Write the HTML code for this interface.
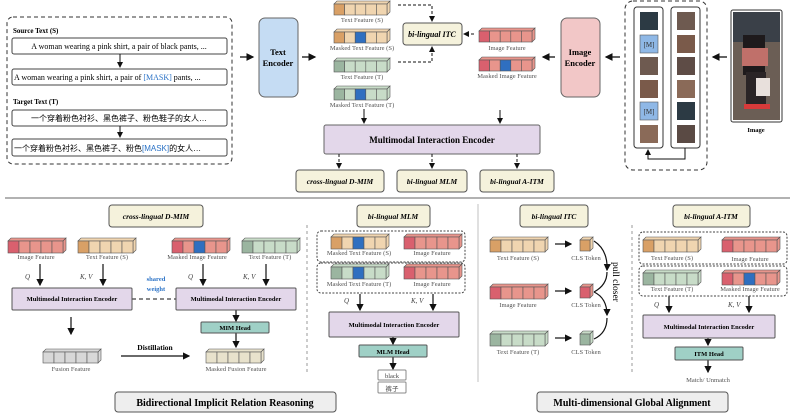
<!DOCTYPE html>
<html><head><meta charset="utf-8"><style>
body{margin:0;background:#fff}
svg{display:block;font-family:"Liberation Serif","Noto Serif CJK SC",serif}
.b{font-weight:bold}
</style></head><body>
<svg id="s" width="793" height="414" viewBox="0 0 793 414" xmlns="http://www.w3.org/2000/svg">
<defs>
<marker id="a" markerWidth="6" markerHeight="6" refX="5" refY="3" orient="auto"><path d="M0,0 L6,3 L0,6 z" fill="#111"/></marker>
</defs>
<g id="bars"></g>
<rect x="7" y="17" width="225" height="147" rx="6" fill="none" stroke="#333" stroke-dasharray="4,3"/>
<text x="13" y="33" font-size="7" class="b">Source Text (S)</text>
<rect x="12" y="38" width="215" height="16" rx="2" fill="#fff" stroke="#444"/>
<text x="119" y="49" font-size="8" text-anchor="middle">A woman wearing a pink shirt, a pair of black pants, ...</text>
<line x1="120" y1="54" x2="120" y2="67" stroke="#111" marker-end="url(#a)"/>
<rect x="12" y="69" width="215" height="16" rx="2" fill="#fff" stroke="#444"/>
<text x="14" y="80" font-size="8">A woman wearing a pink shirt, a pair of <tspan fill="#2a72c6">[MASK]</tspan> pants, ...</text>
<text x="13" y="104" font-size="7" class="b">Target Text (T)</text>
<rect x="12" y="110" width="215" height="16" rx="2" fill="#fff" stroke="#444"/>
<text x="119" y="121" font-size="8" text-anchor="middle" font-family="Liberation Sans,Noto Sans CJK SC,sans-serif">一个穿着粉色衬衫、黑色裤子、粉色鞋子的女人…</text>
<line x1="120" y1="126" x2="120" y2="137" stroke="#111" marker-end="url(#a)"/>
<rect x="12" y="139" width="215" height="17" rx="2" fill="#fff" stroke="#444"/>
<text x="14" y="151" font-size="8" font-family="Liberation Sans,Noto Sans CJK SC,sans-serif">一个穿着粉色衬衫、黑色裤子、粉色<tspan fill="#2a72c6">[MASK]</tspan>的女人…</text>
<line x1="240" y1="57" x2="253" y2="57" stroke="#111" stroke-width="1.3" marker-end="url(#a)"/>
<rect x="259" y="18" width="39" height="79" rx="6" fill="#c5dcf3" stroke="#666"/>
<text x="278" y="55" font-size="8.5" class="b" text-anchor="middle">Text</text>
<text x="278" y="66" font-size="8.5" class="b" text-anchor="middle">Encoder</text>
<line x1="302" y1="57" x2="315" y2="57" stroke="#111" stroke-width="1.3" marker-end="url(#a)"/>
<g font-size="6.5" fill="#555" text-anchor="middle">
<text x="362" y="22">Text Feature (S)</text>
<text x="362" y="50">Masked Text Feature (S)</text>
<text x="362" y="79">Text Feature (T)</text>
<text x="362" y="107">Masked Text Feature (T)</text>
<text x="507" y="50">Image Feature</text>
<text x="507" y="78">Masked Image Feature</text>
</g>
<path d="M398,5 H432 V21" fill="none" stroke="#111" stroke-dasharray="3,2" marker-end="url(#a)"/>
<path d="M398,62 H432 V47" fill="none" stroke="#111" stroke-dasharray="3,2" marker-end="url(#a)"/>
<path d="M474,34 H464" fill="none" stroke="#111" stroke-dasharray="3,2" marker-end="url(#a)"/>
<rect x="403" y="23" width="59" height="22" rx="3" fill="#f5f2dc" stroke="#555"/>
<text x="432" y="37" font-size="8" class="b" font-style="italic" text-anchor="middle">bi-lingual ITC</text>
<line x1="555" y1="57" x2="543" y2="57" stroke="#111" stroke-width="1.3" marker-end="url(#a)"/>
<rect x="561" y="18" width="39" height="79" rx="6" fill="#f2c7c7" stroke="#666"/>
<text x="580" y="55" font-size="8.5" class="b" text-anchor="middle">Image</text>
<text x="580" y="66" font-size="8.5" class="b" text-anchor="middle">Encoder</text>
<line x1="620" y1="57" x2="606" y2="57" stroke="#111" stroke-width="1.3" marker-end="url(#a)"/>
<rect x="625" y="1" width="82" height="169" rx="8" fill="none" stroke="#333" stroke-dasharray="4,3"/>
<rect x="634" y="7" width="29" height="141" rx="3" fill="#fff" stroke="#333"/>
<rect x="671" y="7" width="29" height="141" rx="3" fill="#fff" stroke="#333"/>
<g id="tiles"></g>
<path d="M685,148 V159 H648 V150" fill="none" stroke="#111" marker-end="url(#a)"/>
<line x1="727" y1="57" x2="713" y2="57" stroke="#111" stroke-width="1.3" marker-end="url(#a)"/>
<rect x="731" y="10" width="51" height="112" rx="2" fill="#fff" stroke="#333"/>
<rect x="733" y="12" width="47" height="108" fill="#6b5e55"/>
<rect x="733" y="12" width="47" height="30" fill="#3a4048"/>
<rect x="743" y="35" width="22" height="40" fill="#1e1a1c"/>
<rect x="742" y="48" width="26" height="18" fill="#c0706a"/>
<rect x="746" y="72" width="20" height="35" fill="#2a2426"/>
<rect x="756" y="78" width="14" height="18" fill="#e8e0dc"/>
<rect x="744" y="104" width="26" height="5" fill="#d83a3a"/>
<text x="756" y="132" font-size="6.5" class="b" text-anchor="middle">Image</text>
<line x1="364" y1="109" x2="364" y2="123" stroke="#111" marker-end="url(#a)"/>
<line x1="500" y1="110" x2="500" y2="123" stroke="#111" marker-end="url(#a)"/>
<rect x="324" y="125" width="216" height="29" rx="2" fill="#e3d7ea" stroke="#666"/>
<text x="432" y="143" font-size="9" class="b" text-anchor="middle">Multimodal Interaction Encoder</text>
<g stroke="#111" stroke-dasharray="3,2">
<line x1="339" y1="154" x2="339" y2="168" marker-end="url(#a)"/>
<line x1="432" y1="154" x2="432" y2="168" marker-end="url(#a)"/>
<line x1="517" y1="154" x2="517" y2="168" marker-end="url(#a)"/>
</g>
<g font-size="7.5" class="b" font-style="italic" text-anchor="middle">
<rect x="296" y="170" width="88" height="22" rx="3" fill="#f5f2dc" stroke="#555"/><text x="340" y="184">cross-lingual D-MIM</text>
<rect x="397" y="170" width="70" height="22" rx="3" fill="#f5f2dc" stroke="#555"/><text x="432" y="184">bi-lingual MLM</text>
<rect x="480" y="170" width="74" height="22" rx="3" fill="#f5f2dc" stroke="#555"/><text x="517" y="184">bi-lingual A-ITM</text>
</g>
<line x1="5" y1="198" x2="790" y2="198" stroke="#999" stroke-width="1.5"/>
<g font-size="7.5" class="b" font-style="italic" text-anchor="middle">
<rect x="109" y="205" width="94" height="22" rx="3" fill="#f5f2dc" stroke="#555"/><text x="156" y="219">cross-lingual D-MIM</text>
<rect x="357" y="205" width="73" height="22" rx="3" fill="#f5f2dc" stroke="#555"/><text x="393" y="219">bi-lingual MLM</text>
<rect x="520" y="205" width="68" height="22" rx="3" fill="#f5f2dc" stroke="#555"/><text x="554" y="219">bi-lingual ITC</text>
<rect x="673" y="205" width="77" height="22" rx="3" fill="#f5f2dc" stroke="#555"/><text x="711" y="219">bi-lingual A-ITM</text>
</g>
<g font-size="6.5" fill="#555" text-anchor="middle">
<text x="36" y="259">Image Feature</text><text x="107" y="259">Text Feature (S)</text>
<text x="197" y="259">Masked Image Feature</text><text x="270" y="259">Text Feature (T)</text>
<text x="71" y="371">Fusion Feature</text><text x="236" y="371">Masked Fusion Feature</text>
<text x="359" y="255">Masked Text Feature (S)</text><text x="432" y="255">Image Feature</text>
<text x="359" y="286">Masked Text Feature (T)</text><text x="432" y="286">Image Feature</text>
<text x="518" y="260">Text Feature (S)</text><text x="518" y="307">Image Feature</text><text x="518" y="354">Text Feature (T)</text>
<text x="586" y="260">CLS Token</text><text x="586" y="307">CLS Token</text><text x="586" y="354">CLS Token</text>
<text x="672" y="260">Text Feature (S)</text><text x="750" y="261">Image Feature</text>
<text x="672" y="291">Text Feature (T)</text><text x="750" y="291">Masked Image Feature</text>
<text x="708" y="382">Match/ Unmatch</text>
</g>
<g font-size="7" font-style="italic" fill="#444">
<text x="25" y="279">Q</text><text x="80" y="279">K, V</text>
<text x="188" y="279">Q</text><text x="243" y="279">K, V</text>
<text x="344" y="303">Q</text><text x="411" y="303">K, V</text>
<text x="654" y="307">Q</text><text x="728" y="307">K, V</text>
</g>
<g stroke="#111" stroke-width="1.2">
<line x1="40" y1="264" x2="40" y2="285" marker-end="url(#a)"/><line x1="103" y1="264" x2="103" y2="285" marker-end="url(#a)"/>
<line x1="203" y1="264" x2="203" y2="285" marker-end="url(#a)"/><line x1="266" y1="264" x2="266" y2="285" marker-end="url(#a)"/>
<line x1="71" y1="317" x2="71" y2="334" marker-end="url(#a)"/>
<line x1="236" y1="310" x2="236" y2="321" marker-end="url(#a)"/><line x1="236" y1="333" x2="236" y2="347" marker-end="url(#a)"/>
<line x1="121" y1="356" x2="189" y2="356" marker-end="url(#a)"/>
<line x1="360" y1="294" x2="360" y2="310" marker-end="url(#a)"/><line x1="433" y1="294" x2="433" y2="310" marker-end="url(#a)"/>
<line x1="393" y1="337" x2="393" y2="344" marker-end="url(#a)"/><line x1="393" y1="357" x2="393" y2="369" marker-end="url(#a)"/>
<line x1="555" y1="244" x2="571" y2="244" marker-end="url(#a)"/><line x1="555" y1="291" x2="571" y2="291" marker-end="url(#a)"/><line x1="555" y1="338" x2="571" y2="338" marker-end="url(#a)"/>
<line x1="669" y1="296" x2="669" y2="312" marker-end="url(#a)"/><line x1="749" y1="296" x2="749" y2="312" marker-end="url(#a)"/>
<line x1="708" y1="338" x2="708" y2="345" marker-end="url(#a)"/><line x1="708" y1="360" x2="708" y2="372" marker-end="url(#a)"/>
</g>
<g fill="none" stroke="#111" stroke-width="1.2">
<path d="M594,241 Q608,250 607,270" marker-end="url(#a)"/>
<path d="M594,292 Q607,285 607,272"/>
<path d="M594,292 Q607,298 607,315" marker-end="url(#a)"/>
<path d="M594,339 Q607,333 607,318"/>
</g>
<text transform="translate(613,262) rotate(90)" font-size="9.5">pull closer</text>
<text x="156" y="281" font-size="6.5" class="b" fill="#2a72c6" text-anchor="middle">shared</text>
<text x="156" y="291" font-size="6.5" class="b" fill="#2a72c6" text-anchor="middle">weight</text>
<text x="155" y="350" font-size="7.5" class="b" text-anchor="middle">Distillation</text>
<line x1="132" y1="299" x2="176" y2="299" stroke="#111" stroke-dasharray="4,3"/>
<g font-size="6.5" class="b" text-anchor="middle">
<rect x="12" y="288" width="120" height="22" rx="1" fill="#e3d7ea" stroke="#555"/><text x="72" y="301">Multimodal Interaction Encoder</text>
<rect x="176" y="288" width="120" height="22" rx="1" fill="#e3d7ea" stroke="#555"/><text x="236" y="301">Multimodal Interaction Encoder</text>
<rect x="201" y="322" width="68" height="11" rx="1" fill="#9fd0c6" stroke="#555"/><text x="235" y="330">MIM Head</text>
<rect x="329" y="312" width="130" height="25" rx="1" fill="#e3d7ea" stroke="#555"/><text x="394" y="327">Multimodal Interaction Encoder</text>
<rect x="359" y="345" width="68" height="12" rx="1" fill="#9fd0c6" stroke="#555"/><text x="393" y="354">MLM Head</text>
<rect x="643" y="315" width="132" height="23" rx="1" fill="#e3d7ea" stroke="#555"/><text x="709" y="329">Multimodal Interaction Encoder</text>
<rect x="675" y="347" width="68" height="13" rx="1" fill="#9fd0c6" stroke="#555"/><text x="709" y="356">ITM Head</text>
</g>
<rect x="378" y="370" width="28" height="10" rx="1" fill="#fff" stroke="#888"/><text x="392" y="378" font-size="6.5" text-anchor="middle" fill="#444">black</text>
<rect x="378" y="382" width="28" height="11" rx="1" fill="#fff" stroke="#888"/><text x="392" y="391" font-size="6.5" text-anchor="middle" fill="#444" font-family="Noto Sans CJK SC,sans-serif">裤子</text>
<g fill="none" stroke="#444" stroke-dasharray="2,1.5">
<rect x="317" y="231" width="148" height="31" rx="4"/><rect x="317" y="263" width="148" height="30" rx="4"/>
<rect x="639" y="232" width="148" height="32" rx="4"/><rect x="639" y="266" width="148" height="30" rx="4"/>
</g>
<line x1="307" y1="225" x2="307" y2="372" stroke="#999" stroke-dasharray="3,3"/>
<line x1="632" y1="225" x2="632" y2="372" stroke="#999" stroke-dasharray="3,3"/>
<line x1="478" y1="204" x2="478" y2="382" stroke="#ccc" stroke-width="1.2"/>
<rect x="115" y="392" width="221" height="20" rx="3" fill="#eee" stroke="#555"/>
<text x="225" y="406" font-size="10" class="b" text-anchor="middle">Bidirectional Implicit Relation Reasoning</text>
<rect x="537" y="392" width="191" height="20" rx="3" fill="#eee" stroke="#555"/>
<text x="632" y="406" font-size="10" class="b" text-anchor="middle">Multi-dimensional Global Alignment</text>
</svg>
<script>
var NS="http://www.w3.org/2000/svg",G=document.getElementById("bars");
function el(t,a,p){var e=document.createElementNS(NS,t);for(var k in a)e.setAttribute(k,a[k]);(p||G).appendChild(e);return e;}
var S=["#d9a066","#f0d5b0"],T=["#9bb5a0","#c8dcc8"],I=["#d9606e","#e8958c"],F=["#d8d8d8","#d8d8d8"],M=["#e8e2cc","#e8e2cc"],B="#2f6fc0";
function bar(x,y,w,h,c,mask,n){n=n||5;var cw=w/n,d=3;
 el("polygon",{points:x+","+y+" "+(x+d)+","+(y-d)+" "+(x+w+d)+","+(y-d)+" "+(x+w)+","+y,fill:c[1],stroke:"#555","stroke-width":0.6});
 el("polygon",{points:(x+w)+","+y+" "+(x+w+d)+","+(y-d)+" "+(x+w+d)+","+(y+h-d)+" "+(x+w)+","+(y+h),fill:c[1],stroke:"#555","stroke-width":0.6});
 for(var i=0;i<n;i++)el("rect",{x:x+i*cw,y:y,width:cw,height:h,fill:(mask&&i==2)?B:(i==0?c[0]:c[1]),stroke:"#555","stroke-width":0.6});}
bar(334,4,53,11,S);bar(334,32,53,11,S,1);bar(334,61,53,11,T);bar(334,89,53,11,T,1);
bar(479,31,53,11,I);bar(479,60,53,11,I,1);
bar(8,241,55,12,I);bar(78,241,55,12,S);bar(172,241,55,12,I,1);bar(242,241,55,12,T);
bar(43,352,55,11,F);bar(206,352,55,11,M);
bar(331,237,55,12,S,1);bar(404,237,55,12,I);bar(331,267,55,12,T,1);bar(404,267,55,12,I);
bar(490,240,55,12,S);bar(490,287,55,12,I);bar(490,334,55,12,T);
bar(580,240,10,11,S,0,1);bar(580,287,10,11,I,0,1);bar(580,334,10,11,T,0,1);
bar(643,240,55,12,S);bar(722,240,55,12,I);bar(643,273,55,12,T);bar(722,273,55,12,I,1);
var tg=document.getElementById("tiles"),ys=[12,35,57,80,102,125],cols=["#2c3a44","#5a4a44","#6e5a50","#7a5a4a","#5e4c46","#8a6a58"];
ys.forEach(function(y,i){
 if(i==1||i==4){el("rect",{x:640,y:y,width:18,height:18,fill:"#8fb8e6",stroke:"#555","stroke-width":0.6},tg);var t=el("text",{x:649,y:y+12,"font-size":7,"text-anchor":"middle",fill:"#333"},tg);t.textContent="[M]";}
 else el("rect",{x:640,y:y,width:18,height:18,fill:cols[i]},tg);
 el("rect",{x:677,y:y,width:18,height:18,fill:cols[(i+2)%6]},tg);});
</script>
</body></html>
